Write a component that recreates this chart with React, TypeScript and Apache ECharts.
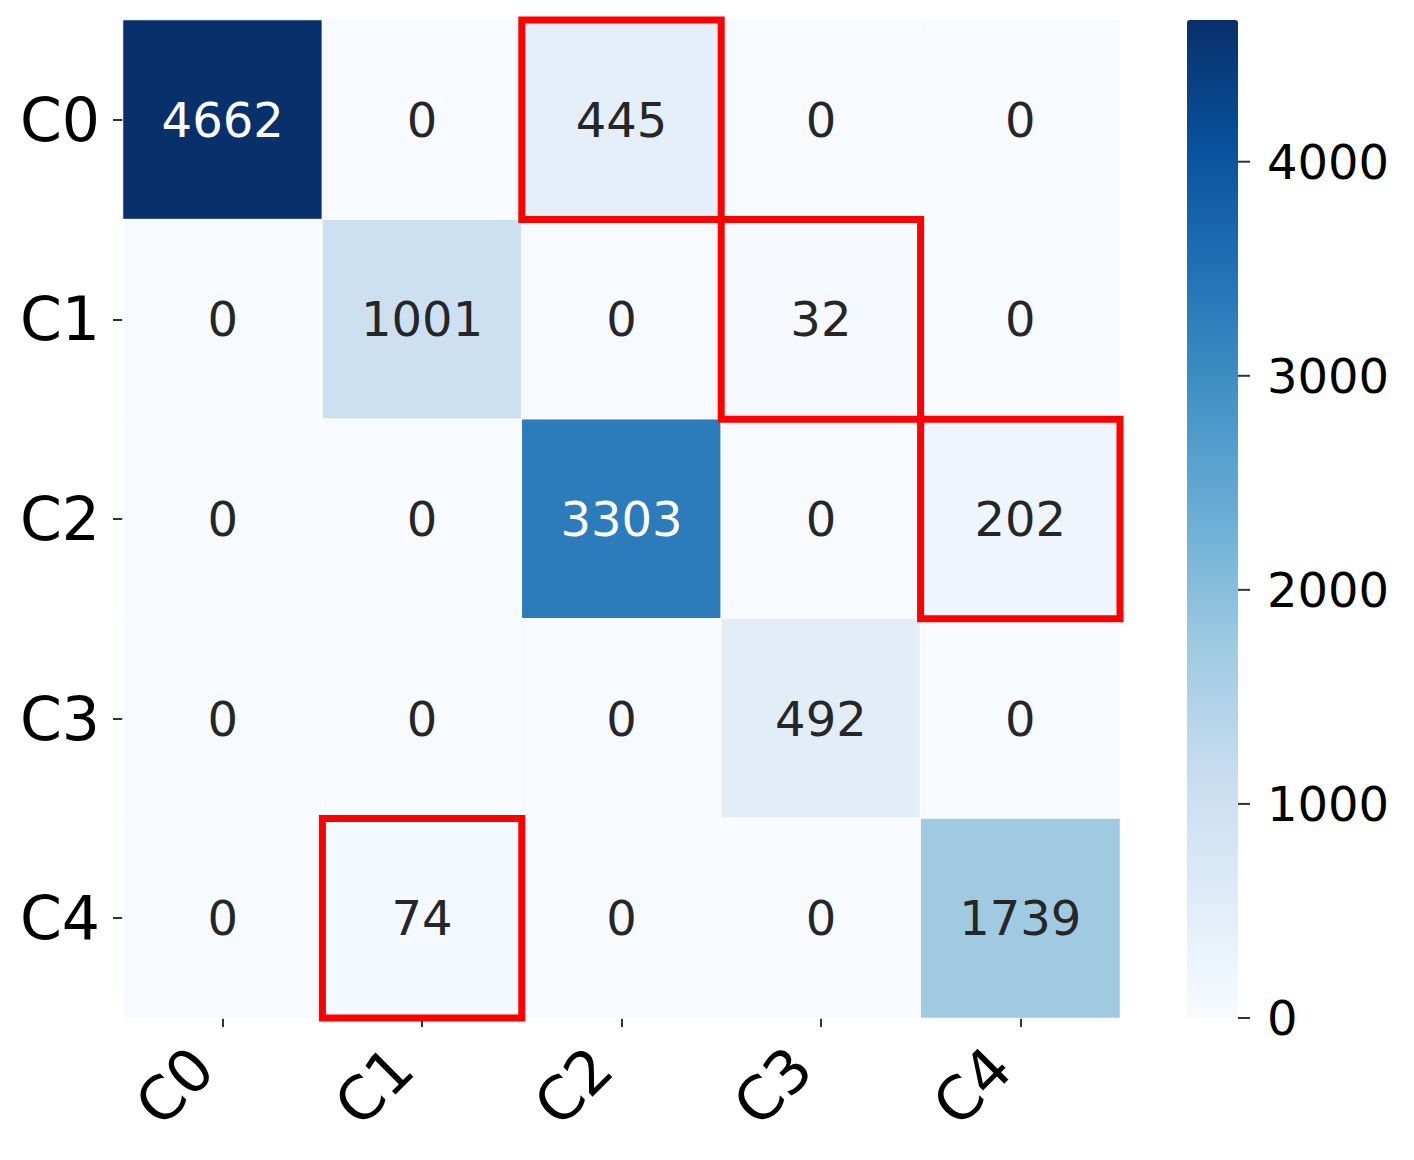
import { useEffect, useRef } from "react";
import * as echarts from "echarts";

// confusion matrix, rows = true class, cols = predicted class
const CLASSES = ["C0", "C1", "C2", "C3", "C4"];
const MATRIX: number[][] = [
  [4662, 0, 445, 0, 0],
  [0, 1001, 0, 32, 0],
  [0, 0, 3303, 0, 202],
  [0, 0, 0, 492, 0],
  [0, 74, 0, 0, 1739],
];
// highlighted cells as [col, row]
const HIGHLIGHTS: [number, number][] = [[2, 0], [3, 1], [4, 2], [1, 4]];
const CBAR_TICKS = [0, 1000, 2000, 3000, 4000];

// matplotlib "Blues"
const BLUES = ["#f7fbff", "#deebf7", "#c6dbef", "#9ecae1", "#6baed6", "#4292c6", "#2171b5", "#08519c", "#08306b"];
const FONT = "DejaVu Sans";

export default function App() {
  const ref = useRef<HTMLDivElement>(null);

  useEffect(() => {
    document.body.style.margin = "0";
    if (!ref.current) return;
    const inst = echarts.init(ref.current, undefined, { renderer: "svg" });
    const vmax = Math.max(...MATRIX.flat());

    const cells = MATRIX.flatMap((row, r) =>
      row.map((v, c) => ({
        value: [c, r, v],
        label: { color: v > vmax * 0.55 ? "#ffffff" : "#262626" },
      })),
    );

    inst.setOption({
      animation: false,
      backgroundColor: "#ffffff",
      textStyle: { fontFamily: FONT },
      grid: [
        { left: 123, top: 20, width: 997, height: 998 },
        { left: 1187, top: 20, width: 51, height: 998 },
      ],
      xAxis: [
        {
          type: "category", data: CLASSES, gridIndex: 0, position: "bottom",
          axisLine: { show: false },
          axisTick: { show: true, alignWithLabel: true, length: 9, lineStyle: { color: "#333", width: 2 } },
          axisLabel: { rotate: 45, fontSize: 60, color: "#000", margin: 20, padding: [0, 28, 0, 0], fontFamily: FONT },
          splitLine: { show: false },
        },
        { type: "value", gridIndex: 1, show: false, min: 0, max: 1 },
      ],
      yAxis: [
        {
          type: "category", data: CLASSES, gridIndex: 0, inverse: true,
          axisLine: { show: false },
          axisTick: { show: true, alignWithLabel: true, length: 10, lineStyle: { color: "#333", width: 2 } },
          axisLabel: { fontSize: 60, color: "#000", margin: 23, fontFamily: FONT },
          splitLine: { show: false },
        },
        {
          type: "value", gridIndex: 1, position: "right", min: 0, max: vmax,
          axisLine: { show: false },
          axisTick: { show: false },
          axisLabel: {
            fontSize: 48, color: "#000", margin: 29, customValues: CBAR_TICKS, fontFamily: FONT,
            formatter: (v: number) => String(v),
          },
          splitLine: { show: false },
        },
      ],
      visualMap: {
        type: "continuous",
        min: 0, max: vmax,
        seriesIndex: 0,
        inRange: { color: BLUES },
        calculable: false,
        orient: "vertical",
        left: 1187, top: 20,
        itemWidth: 51, itemHeight: 998,
        padding: 0,
        text: null,
        showLabel: false,
      },
      series: [
        {
          type: "heatmap",
          xAxisIndex: 0, yAxisIndex: 0,
          data: cells,
          itemStyle: { borderColor: "#ffffff", borderWidth: 1 },
          label: { show: true, fontSize: 48, fontFamily: FONT, formatter: (p: any) => String(p.value[2]) },
          emphasis: { disabled: true },
        },
        {
          type: "custom",
          xAxisIndex: 0, yAxisIndex: 0,
          data: HIGHLIGHTS,
          silent: true,
          z: 10,
          renderItem: (_params: any, api: any) => {
            const c = api.coord([api.value(0), api.value(1)]);
            const s = api.size([1, 1]);
            return {
              type: "rect",
              shape: { x: c[0] - s[0] / 2, y: c[1] - s[1] / 2, width: s[0], height: s[1] },
              style: { fill: "none", stroke: "#ff0000", lineWidth: 7 },
            };
          },
        },
        {
          // colourbar tick marks on the right edge of the bar
          type: "scatter",
          xAxisIndex: 1, yAxisIndex: 1,
          data: CBAR_TICKS.map((t) => [1, t]),
          symbol: "rect",
          symbolSize: [12, 2],
          symbolOffset: [6, 0],
          itemStyle: { color: "#000" },
          silent: true,
          clip: false,
          z: 10,
        },
      ],
    });

    return () => inst.dispose();
  }, []);

  return <div ref={ref} style={{ width: 1414, height: 1160 }} />;
}
